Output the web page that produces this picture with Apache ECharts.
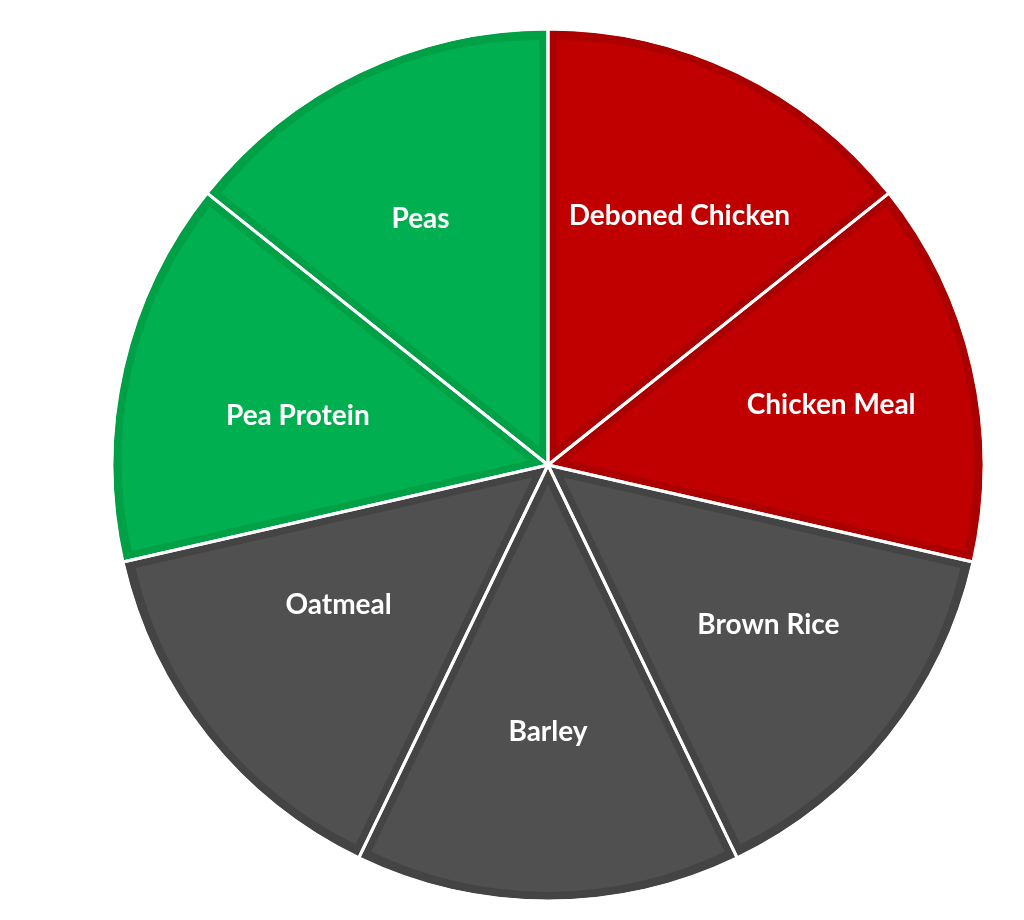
<!DOCTYPE html>
<html><head><meta charset="utf-8">
<script src="https://cdn.jsdelivr.net/npm/echarts@6/dist/echarts.min.js"></script>
<style>html,body{margin:0;padding:0;background:#fff}#c{width:1024px;height:920px}</style>
</head><body><div id="c"></div>
<script>
const categories = ["Deboned Chicken","Chicken Meal","Brown Rice","Barley","Oatmeal","Pea Protein","Peas"];
const values = [1,1,1,1,1,1,1];
const fillColors = ["#C00000","#C00000","#505050","#505050","#505050","#00B050","#00B050"];
const bandColors = ["#AC0000","#AC0000","#444444","#444444","#444444","#00A047","#00A047"];
// label nudges (style only), in px
const labelNudges = [[13,-3],[17,1],[7,-10],[0,-6],[4,-30],[16,12],[-9,0]];

const textStyle = {color: '#ffffff', fontFamily: 'Lato', fontWeight: 'bold', fontSize: 28, lineHeight: 34};

function nudgedLabel(name, o) {
  const dx = o[0], dy = o[1];
  const spacer = Math.abs(dy) * 2;
  let fmt = '{t|' + name + '}';
  if (dy < 0) fmt = fmt + '\n{s| }';
  else if (dy > 0) fmt = '{s| }\n' + fmt;
  return {
    formatter: fmt,
    padding: [0, Math.max(0, -2*dx), 0, Math.max(0, 2*dx)],
    rich: { t: textStyle, s: {fontSize: 1, lineHeight: Math.max(1, spacer)} }
  };
}

const chart = echarts.init(document.getElementById('c'));
const center = [548, 465];
chart.setOption({
  animation: false,
  series: [
    {
      type: 'pie', center: center, radius: [0, 435], silent: true, z: 1,
      label: {show: false}, labelLine: {show: false},
      data: categories.map((n,i)=>({name:n, value:values[i],
        itemStyle:{color:bandColors[i]}}))
    },
    {
      type: 'pie', center: center, radius: [0, 407], silent: true, z: 2,
      selectedMode: 'multiple', selectedOffset: 20,
      label: {show: false}, labelLine: {show: false},
      data: categories.map((n,i)=>({name:n, value:values[i], selected: true,
        itemStyle:{color:fillColors[i]}}))
    },
    {
      type: 'pie', center: center, radius: [0, 436], silent: true, z: 3,
      label: {show: false}, labelLine: {show: false},
      data: categories.map((n,i)=>({name:n, value:values[i],
        itemStyle:{color:'rgba(0,0,0,0)', borderColor:'#ffffff', borderWidth:3}}))
    },
    {
      type: 'pie', center: center, radius: [100, 440], silent: true, z: 4,
      itemStyle: {color:'rgba(0,0,0,0)'},
      label: Object.assign({show: true, position: 'inside'}, textStyle),
      labelLine: {show: false},
      data: categories.map((n,i)=>({name:n, value:values[i],
        label: nudgedLabel(n, labelNudges[i])}))
    }
  ]
});
</script></body></html>
